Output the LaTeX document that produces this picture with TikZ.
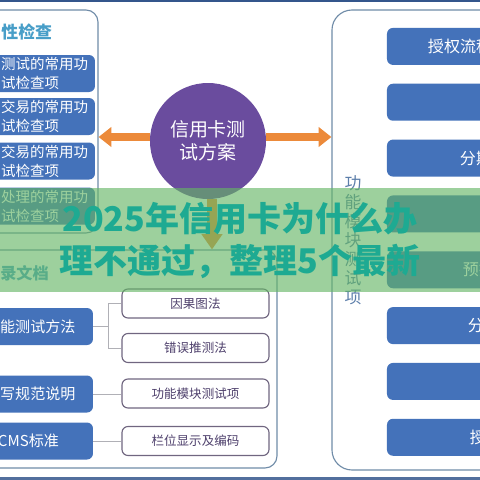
\documentclass[tikz,border=0pt]{standalone}
\usepackage{fontspec}
\setmainfont{Noto Sans CJK SC}
\usepackage{xcolor}
\usetikzlibrary{arrows.meta}
\definecolor{edgeblue}{RGB}{52,86,140}
\definecolor{panelline}{RGB}{112,140,168}
\definecolor{boxblue}{RGB}{68,114,186}
\definecolor{titleblue}{RGB}{72,158,200}
\definecolor{planpurple}{RGB}{106,76,158}
\definecolor{arroworange}{RGB}{236,138,58}
\definecolor{linkgray}{RGB}{176,176,182}
\definecolor{itemline}{RGB}{112,102,128}
\definecolor{itemtext}{RGB}{78,64,108}
\definecolor{vertblue}{RGB}{92,126,170}
\definecolor{bandgreen}{RGB}{100,182,100}
\definecolor{bandtext}{RGB}{30,170,146}

\tikzset{
  panel/.style={draw=panelline, line width=0.8pt, rounded corners=0.3cm, inner sep=0pt},
  bluebox/.style={fill=boxblue, rounded corners=0.15cm, minimum height=0.925cm, inner sep=0pt},
  boxtext/.style={text=white, font=\fontsize{10.3}{13.5}\selectfont, align=left, inner sep=0pt, anchor=west},
  itembox/.style={draw=itemline, fill=white, line width=0.8pt, rounded corners=0.15cm,
    minimum width=3.675cm, minimum height=0.725cm, inner sep=0pt, text=itemtext,
    font=\fontsize{8.9}{10}\selectfont},
  flowarrow/.style={arroworange, line width=0.22cm, -{Triangle[length=0.32cm, width=0.48cm]}},
  link/.style={linkgray, line width=0.7pt},
}

\begin{document}
\begin{tikzpicture}
\useasboundingbox (-6,-6) rectangle (6,6);
\clip (-6,-6) rectangle (6,6);
\fill[white] (-6,-6) rectangle (6,6);

% frame lines
\fill[edgeblue] (-6,6) rectangle (6,5.95);
\fill[edgeblue!85] (-6,-5.92) rectangle (6,-6);

% 1. LEFT PANEL (check items)
\node[panel, minimum width=2.95cm, minimum height=5.575cm] (chkpanel) at (-5.025,2.9625) {};
\node[anchor=west, inner sep=0pt, text=titleblue, font=\bfseries\fontsize{12}{14}\selectfont] (chktitle) at (-5.97,5.2) {性检查};
\foreach \name/\y/\first in {chka/4.1625/测试的常用功, chkb/3.0875/交易的常用功, chkc/1.975/交易的常用功, chkd/0.85/处理的常用功} {
  \node[bluebox, minimum width=2.75cm] (\name) at (-5.0,\y) {};
  \node[boxtext] (\name txt) at ([xshift=0.405cm]\name.west) {\first\\试检查项};
}

% 2. TEST PLAN CIRCLE
\node[circle, fill=planpurple, minimum size=2.9cm, inner sep=0pt, text=white, align=center,
  font=\fontsize{13.5}{16.4}\selectfont] (plan) at (-0.8,2.475) {信用卡测\\试方案};

% 3. RIGHT PANEL (function modules)
\node[panel, rounded corners=0.5cm, minimum width=4.3cm, minimum height=11.5cm] (funcpanel) at (4.45,0) {};
\foreach \k in {0,...,7}
  \node[bluebox, minimum width=2.9cm] (fn\k) at (5.125,{4.84-1.396*\k}) {};
\node[boxtext, font=\fontsize{11.4}{13}\selectfont] (fn0txt) at ([xshift=1.025cm]fn0.west) {授权流程};
\node[boxtext, font=\fontsize{11.4}{13}\selectfont] (fn2txt) at ([xshift=1.825cm]fn2.west) {分期};
\node[boxtext, font=\fontsize{11.4}{13}\selectfont] (fn4txt) at ([xshift=1.9cm]fn4.west) {预授};
\node[boxtext, font=\fontsize{11.4}{13}\selectfont] (fn5txt) at ([xshift=2.025cm]fn5.west) {分期};
\node[boxtext, font=\fontsize{11.4}{13}\selectfont] (fn7txt) at ([xshift=2.075cm]fn7.west) {授权};
\node[inner sep=0pt, text=vertblue, align=center, font=\fontsize{12}{13.5}\selectfont] (modtitle) at (2.825,0)
  {功\\能\\模\\块\\测\\试\\项};

% 4. LOWER LEFT PANEL (documents)
\node[panel, minimum width=7.425cm, minimum height=5.45cm] (docpanel) at (-2.7875,-2.975) {};
\node[anchor=west, inner sep=0pt, text=titleblue, font=\bfseries\fontsize{11.5}{14}\selectfont] (doctitle) at (-6.0,-0.825) {录文档};
\node[bluebox, minimum width=2.75cm] (meth) at (-5.05,-2.1625) {};
\node[boxtext, font=\fontsize{10.7}{12}\selectfont] (methtxt) at ([xshift=0.43cm]meth.west) {能测试方法};
\node[bluebox, minimum width=2.75cm] (spec) at (-5.05,-3.85) {};
\node[boxtext, font=\fontsize{10.7}{12}\selectfont] (spectxt) at ([xshift=0.43cm]spec.west) {写规范说明};
\node[bluebox, minimum width=2.75cm] (cms) at (-5.05,-5.025) {};
\node[boxtext, font=\fontsize{10.7}{12}\selectfont] (cmstxt) at ([xshift=0.375cm]cms.west) {CMS标准};

\node[itembox] (cause) at (-1.1125,-1.5875) {因果图法};
\node[itembox] (guess) at (-1.1125,-2.7) {错误推测法};
\node[itembox] (modul) at (-1.1125,-3.8375) {功能模块测试项};
\node[itembox] (field) at (-1.1125,-5.025) {栏位显示及编码};

% connectors
\draw[link] (meth.east) -- ++(0.375,0) coordinate (fork);
\draw[link] (cause.west) -| (fork) |- (guess.west);
\draw[link] (spec.east) -- (spec.east -| modul.west);
\draw[link] (cms.east) -- (cms.east -| field.west);

% arrows out of the plan
\draw[flowarrow] ([yshift=0.1cm]plan.west) -- ([yshift=0.1cm]plan.west -| chkpanel.east);
\draw[flowarrow] ([yshift=0.1cm]plan.east) -- ([yshift=0.1cm]plan.east -| funcpanel.west);
\draw[flowarrow, line width=0.25cm, -{Triangle[length=0.38cm, width=0.5cm]}] ([xshift=0.1cm]plan.south) -- ([xshift=0.1cm]plan.south |- docpanel.north);

% 5. TITLE BAND
\fill[bandgreen, opacity=0.63] (-6,1.3) rectangle (6,-1.3);
\node[inner sep=0pt, text=bandtext, align=center, font=\bfseries\fontsize{24.2}{29.9}\selectfont] (headline) at (0,-0.025)
  {2025年信用卡为什么办\\理不通过，整理5个最新};

\end{tikzpicture}
\end{document}
